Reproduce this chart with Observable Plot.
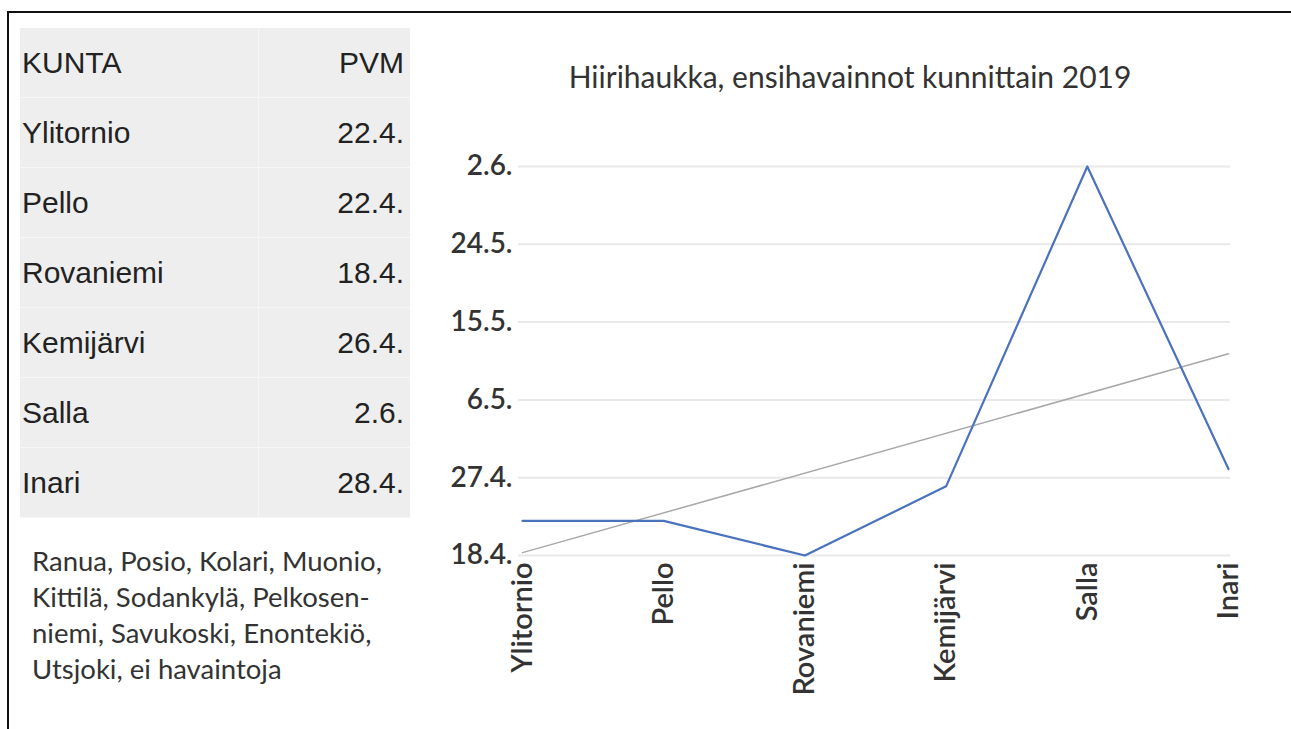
<!DOCTYPE html>
<html>
<head>
<meta charset="utf-8">
<script src="https://cdn.jsdelivr.net/npm/d3@7"></script>
<script src="https://cdn.jsdelivr.net/npm/@observablehq/plot@0.6"></script>
<style>
  html, body { margin: 0; padding: 0; background: #fff; }
  body { width: 1291px; height: 729px; position: relative; overflow: hidden; }
  #frame { position: absolute; left: 7px; top: 11px; width: 1290px; height: 730px;
           border-top: 2px solid #111; border-left: 2px solid #111; }
  #table { position: absolute; left: 20px; top: 28px; width: 390px; background: #eeeeee;
           font-family: "Liberation Sans", Arial, sans-serif; font-size: 30px; color: #222; }
  .row { position: relative; height: 70px; border-bottom: 1px solid #f6f6f6; box-sizing: border-box; }
  .row span { position: absolute; top: 50%; transform: translateY(-50%); }
  .row .k { left: 2px; }
  .row .p { right: 6px; }
  #colsep { position: absolute; left: 238px; top: 0; bottom: 0; width: 1px; background: #f6f6f6; }
  #note { position: absolute; left: 32px; top: 543px; font-family: Lato, sans-serif; font-size: 27.5px;
          line-height: 36px; color: #333; }
  #title { position: absolute; left: 430px; width: 840px; top: 58px; text-align: center;
           font-family: Lato, sans-serif; font-size: 30px; color: #333; }
  #chart { position: absolute; left: 430px; top: 100px; }
</style>
</head>
<body>
<div id="frame"></div>
<div id="table"><div id="colsep"></div></div>
<div id="note"></div>
<div id="title">Hiirihaukka, ensihavainnot kunnittain 2019</div>
<div id="chart"></div>
<script>
// Data
const headers = ["KUNTA", "PVM"];
const kunnat = ["Ylitornio", "Pello", "Rovaniemi", "Kemijärvi", "Salla", "Inari"];
const pvm = ["22.4.", "22.4.", "18.4.", "26.4.", "2.6.", "28.4."];
const yTickLabels = ["18.4.", "27.4.", "6.5.", "15.5.", "24.5.", "2.6."];
const noteLines = ["Ranua, Posio, Kolari, Muonio,", "Kittilä, Sodankylä, Pelkosen-", "niemi, Savukoski, Enontekiö,", "Utsjoki, ei havaintoja"];

// day-of-year from "d.m."
function doy(s) {
  const [d, m] = s.split(".").map(Number);
  return d3.utcDay.count(new Date(Date.UTC(2019, 0, 1)), new Date(Date.UTC(2019, m - 1, d)));
}

// Table
const table = document.getElementById("table");
function addRow(a, b) {
  const r = document.createElement("div");
  r.className = "row";
  r.innerHTML = `<span class="k">${a}</span><span class="p">${b}</span>`;
  table.appendChild(r);
}
addRow(headers[0], headers[1]);
kunnat.forEach((k, i) => addRow(k, pvm[i]));
document.getElementById("note").innerHTML = noteLines.join("<br>");

// Chart
const data = kunnat.map((k, i) => ({i, kunta: k, day: doy(pvm[i])}));
const tickDays = yTickLabels.map(doy);
const labelByDay = new Map(yTickLabels.map(s => [doy(s), s]));

const chart = Plot.plot({
  width: 860,
  height: 620,
  marginLeft: 92,
  marginRight: 62,
  marginTop: 66,
  marginBottom: 165,
  style: {fontFamily: "Lato, sans-serif", fontSize: "28px", color: "#333", background: "transparent"},
  x: {domain: [0, kunnat.length - 1], axis: null},
  y: {domain: [d3.min(tickDays), d3.max(tickDays)], axis: null},
  marks: [
    Plot.ruleY(tickDays, {stroke: "#e9e9e9", strokeWidth: 2, insetLeft: -4, insetRight: -2}),
    Plot.axisY({ticks: tickDays, tickFormat: d => labelByDay.get(d), tickSize: 0, tickPadding: 10, label: null, fontWeight: 600}),
    Plot.axisX({ticks: d3.range(kunnat.length), tickFormat: i => kunnat[i], tickSize: 0, tickPadding: 7, tickRotate: -90, label: null, fontWeight: 600, fontSize: 29}),
    Plot.linearRegressionY(data, {x: "i", y: "day", ci: 0, stroke: "#a8a8a8", strokeWidth: 1.5}),
    Plot.line(data, {x: "i", y: "day", stroke: "#4a72bd", strokeWidth: 2.2})
  ]
});
document.getElementById("chart").appendChild(chart);
</script>
</body>
</html>
